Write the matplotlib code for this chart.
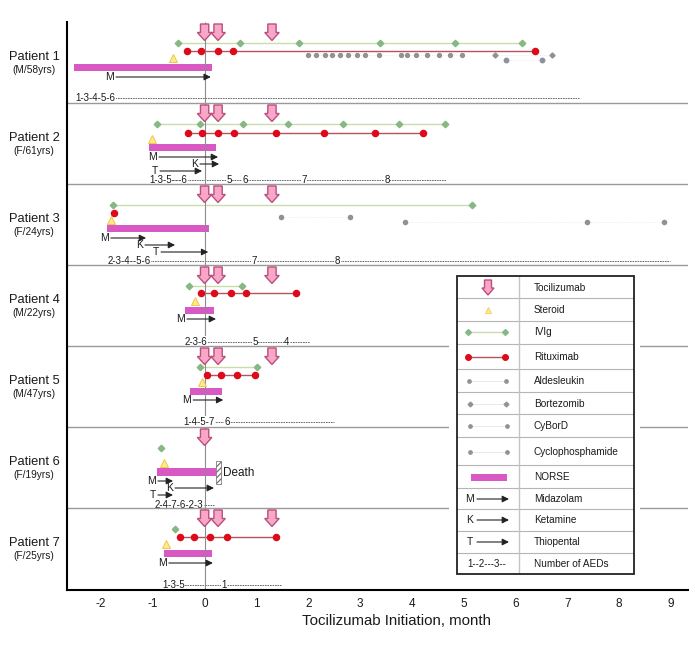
import matplotlib
matplotlib.use("Agg")
import matplotlib.pyplot as plt
from matplotlib.patches import FancyArrow, Rectangle

plt.rcParams["font.family"] = ["Liberation Sans", "DejaVu Sans"]
plt.rcParams["hatch.linewidth"] = 0.8

# data (months from tocilizumab initiation)
patients = ["Patient 1", "Patient 2", "Patient 3", "Patient 4", "Patient 5", "Patient 6", "Patient 7"]
demographics = ["(M/58yrs)", "(F/61yrs)", "(F/24yrs)", "(M/22yrs)", "(M/47yrs)", "(F/19yrs)", "(F/25yrs)"]

tocilizumab = [
    [0, 0.26, 1.30], [0, 0.26, 1.30], [0, 0.26, 1.30], [0, 0.26, 1.30],
    [0, 0.26, 1.30], [0], [0, 0.26, 1.30],
]
steroid = [-0.61, -1.02, -1.81, -0.19, -0.05, -0.78, -0.75]
ivig = [
    [-0.51, 0.68, 1.82, 3.39, 4.83, 6.13],
    [-0.92, -0.09, 0.74, 1.61, 2.67, 3.75, 4.64],
    [-1.77, 5.17],
    [-0.30, 0.72],
    [-0.09, 1.01],
    [-0.84],
    [-0.57],
]
rituximab = [
    [-0.34, -0.07, 0.26, 0.55, 6.38],
    [-0.32, -0.05, 0.26, 0.57, 1.38, 2.30, 3.29, 4.22],
    [-1.75],
    [-0.07, 0.18, 0.51, 0.80, 1.76],
    [0.05, 0.32, 0.63, 0.97],
    [],
    [-0.47, -0.20, 0.10, 0.43, 1.38],
]
norse_start = [-2.52, -1.07, -1.88, -0.38, -0.28, -0.92, -0.78]
norse_end = [0.14, 0.22, 0.09, 0.18, 0.34, 0.22, 0.14]
midazolam_start = [-1.71, -0.88, -1.81, -0.34, -0.22, -0.90, -0.69]
midazolam_end = [0.12, 0.26, -1.13, 0.22, 0.36, -0.61, 0.16]

aldesleukin = [2.00, 2.15, 2.32, 2.46, 2.61, 2.77, 2.94, 3.10, 3.37, 3.79, 3.91, 4.08, 4.29, 4.52, 4.74, 4.97]
bortezomib = [5.61, 6.71]
cybord = [5.82, 6.51]
cyclophosphamide = [1.47, 2.81]
p3_bortezomib = [3.87, 7.38, 8.87]

# patient index, start, end
ketamine = [(1, -0.09, 0.28), (2, -1.15, -0.57), (5, -0.57, 0.18)]
thiopental = [(1, -0.86, -0.05), (2, -0.84, 0.07), (5, -0.90, -0.61)]

aed_labels = [
    ["1-3-4-5-6"],
    ["1-3-5---6", "5", "6", "7", "8"],
    ["2-3-4--5-6", "7", "8"],
    ["2-3-6", "5", "4"],
    ["1-4-5-7", "6"],
    ["2-4-7-6-2-3"],
    ["1-3-5", "1"],
]
aed_times = [
    [-2.50],
    [-1.07, 0.47, 0.78, 1.92, 3.52],
    [-1.88, 0.95, 2.56],
    [-0.38, 0.97, 1.59],
    [-0.41, 0.43],
    [-0.96],
    [-0.82, 0.37],
]
aed_end = [7.23, 4.66, 8.98, 2.03, 2.50, 0.18, 1.47]

xticks = [-2, -1, 0, 1, 2, 3, 4, 5, 6, 7, 8, 9]
legend_names = ["Tocilizumab", "Steroid", "IVIg", "Rituximab", "Aldesleukin", "Bortezomib", "CyBorD",
                "Cyclophosphamide", "NORSE", "Midazolam", "Ketamine", "Thiopental", "Number of AEDs"]

# layout, y axis runs in pixels from the top of the figure
W, H = 698, 646
row_top = [22, 103, 184, 265, 346, 427, 508]
separators = [103, 184, 265, 346, 427, 508]
ivig_y = [43, 124, 205, 286, 367, 448, 529]
rit_y = [51, 133, 213, 293, 375, 456, 537]
steroid_y = [58, 139, 220, 301, 382, 463, 544]
norse_y = [64, 144, 225, 307, 388, 468, 550]
norse_h = [7, 7, 7, 7, 7, 8, 7]
midaz_y = [77, 157, 238, 319, 400, 481, 563]
ket_y = [164, 245, 488]
thio_y = [171, 252, 495]
aed_y = [98, 180, 261, 342, 422, 505, 585]

PINK, PINK_EDGE = "#f9a6c8", "#b8507c"
GREEN, GREEN_LINE = "#86b883", "#c9dcaa"
RED, RED_LINE = "#dd0a1a", "#b4545a"
GRAY, GRAY_LINE = "#929292", "#e6e6e6"
NORSE = "#d858c4"
STEROID, STEROID_EDGE = "#ffe98a", "#efc64a"
TEXT = "#1a1a1a"

fig = plt.figure(figsize=(W / 100, H / 100), dpi=100)
ax = fig.add_axes([67 / W, 1 - 590 / H, (688 - 67) / W, (590 - 22) / H])
ax.set_xlim(-2.656, 9.33)
ax.set_ylim(590, 22)
for side in ["top", "right"]:
    ax.spines[side].set_visible(False)
for side in ["left", "bottom"]:
    ax.spines[side].set_linewidth(1.5)
    ax.spines[side].set_zorder(8)
ax.set_yticks([])
ax.set_xticks(xticks)
ax.set_xticklabels([str(t) for t in xticks], fontsize=8.5, color=TEXT)
ax.tick_params(axis="x", length=0, pad=6)
ax.set_xlabel("Tocilizumab Initiation, month", fontsize=10.8, color=TEXT)
ax.xaxis.set_label_coords((396 - 67) / (688 - 67), -0.042)

# separators sit above the white boxes of the AED text
ax.hlines(separators, -2.656, 9.33, color="#9a9a9a", lw=1, zorder=6)
ax.vlines(0, 22, 590, color="#8c8c8c", lw=0.8, zorder=4)


def pink_arrow(target, x, y0, y1, w, head_w, head_l):
    target.add_patch(FancyArrow(x, y0, 0, y1 - y0, width=w, head_width=head_w, head_length=head_l,
                                length_includes_head=True, facecolor=PINK, edgecolor=PINK_EDGE,
                                lw=1, zorder=7))


def drug_line(target, xs, y, color, line, marker, ms, lw=1.0, ls="-"):
    target.plot(xs, [y] * len(xs), color=line, lw=lw, ls=ls, zorder=3)
    target.plot(xs, [y] * len(xs), ls="none", marker=marker, ms=ms, color=color, mec=color, zorder=5)


def black_arrow(target, x0, x1, y):
    target.annotate("", xy=(x1, y), xytext=(x0, y), zorder=5,
                    arrowprops=dict(arrowstyle="-|>,head_width=0.2,head_length=0.4", color="#222222",
                                    lw=0.8, shrinkA=0, shrinkB=0))


for i in range(7):
    top = row_top[i]
    fig.text(34 / W, 1 - (top + 35) / H, patients[i], ha="center", va="center", fontsize=9.3, color=TEXT)
    fig.text(34 / W, 1 - (top + 48) / H, demographics[i], ha="center", va="center", fontsize=7.3, color=TEXT)

    for t in tocilizumab[i]:
        pink_arrow(ax, t, top + 2, top + 18.5, 0.16, 0.28, 8)

    drug_line(ax, ivig[i], ivig_y[i], GREEN, GREEN_LINE, "D", 3.3)
    if rituximab[i]:
        drug_line(ax, rituximab[i], rit_y[i], RED, RED_LINE, "o", 4.4)
    ax.plot([steroid[i]], [steroid_y[i]], ls="none", marker="^", ms=5.5, color=STEROID, mec=STEROID_EDGE,
            mew=0.7, zorder=5)
    ax.add_patch(Rectangle((norse_start[i], norse_y[i]), norse_end[i] - norse_start[i], norse_h[i],
                           facecolor=NORSE, edgecolor="none", zorder=3))

    black_arrow(ax, midazolam_start[i], midazolam_end[i], midaz_y[i])
    ax.text(midazolam_start[i] - 0.04, midaz_y[i], "M", ha="right", va="center", fontsize=7.5, color=TEXT)

    # AED count strip
    first = aed_times[i][0]
    ax.plot([first, aed_end[i]], [aed_y[i], aed_y[i]], color="#555555", lw=0.6, ls=(0, (2, 1)), zorder=2)
    for j, (label, t) in enumerate(zip(aed_labels[i], aed_times[i])):
        ax.text(t, aed_y[i], label, ha="left" if j == 0 else "center", va="center", fontsize=7, color=TEXT,
                zorder=5, bbox=dict(facecolor="white", edgecolor="none", pad=0.4))

for (i, x0, x1), y in zip(ketamine, ket_y):
    black_arrow(ax, x0, x1, y)
    ax.text(x0 - 0.04, y, "K", ha="right", va="center", fontsize=7.5, color=TEXT)
for (i, x0, x1), y in zip(thiopental, thio_y):
    black_arrow(ax, x0, x1, y)
    ax.text(x0 - 0.04, y, "T", ha="right", va="center", fontsize=7.5, color=TEXT)

# small dose dots in patients 1 and 3
drug_line(ax, aldesleukin, 55, GRAY, GRAY_LINE, "o", 2.8, lw=0.6, ls=":")
drug_line(ax, bortezomib, 55, GRAY, GRAY_LINE, "D", 2.6, lw=0.6, ls=":")
drug_line(ax, cybord, 60, "#8a92a0", GRAY_LINE, "o", 3.2, lw=0.6, ls=":")
drug_line(ax, cyclophosphamide, 217, GRAY, GRAY_LINE, "o", 3, lw=0.6, ls=":")
drug_line(ax, p3_bortezomib, 222, GRAY, GRAY_LINE, "o", 3, lw=0.6, ls=":")

# death marker for patient 6
ax.add_patch(Rectangle((0.22, 461), 0.10, 23, facecolor="white", edgecolor="#666666", hatch="//////", lw=0.5, zorder=4))
ax.text(0.355, 473, "Death", ha="left", va="center", fontsize=8.5, color=TEXT)

# legend table, drawn on an overlay in figure pixels
lg = fig.add_axes([0, 0, 1, 1], zorder=10)
lg.set_xlim(0, W)
lg.set_ylim(H, 0)
lg.axis("off")
lg.patch.set_alpha(0)
lg.add_patch(Rectangle((449, 270), 191, 310, facecolor="white", edgecolor="none", zorder=1))
row_lines = [298, 321, 344, 369, 392, 414, 437, 465, 488, 509, 531, 553]
lg.hlines(row_lines, 457, 634, color="#b5b5b5", lw=0.8, zorder=2)
lg.vlines(519, 276, 574, color="#c4c4c4", lw=1, zorder=2)
lg.add_patch(Rectangle((457, 276), 177, 298, facecolor="none", edgecolor="#222222", lw=1.3, zorder=8))
row_y = [288, 310, 332, 357, 381, 404, 426, 452, 477, 499, 520, 542, 564]
for name, y in zip(legend_names, row_y):
    lg.text(534, y, name, ha="left", va="center", fontsize=7.2, color=TEXT)

pink_arrow(lg, 488, 280, 295, 7, 12, 7)
lg.plot([488], [310], ls="none", marker="^", ms=4.5, color=STEROID, mec=STEROID_EDGE, mew=0.5, zorder=5)
drug_line(lg, [468, 505], 332, GREEN, GREEN_LINE, "D", 3)
drug_line(lg, [468, 505], 357, RED, RED_LINE, "o", 4)
drug_line(lg, [469, 506], 381, GRAY, GRAY_LINE, "o", 2.4, lw=0.6)
drug_line(lg, [470, 506], 404, GRAY, GRAY_LINE, "D", 2.4, lw=0.6)
drug_line(lg, [470, 507], 426, GRAY, GRAY_LINE, "o", 2.4, lw=0.6)
drug_line(lg, [470, 507], 452, GRAY, GRAY_LINE, "o", 2.4, lw=0.6)
lg.add_patch(Rectangle((471, 473.5), 36, 7, facecolor=NORSE, edgecolor="none", zorder=3))
for letter, y in zip("MKT", [499, 520, 542]):
    black_arrow(lg, 477, 509, y)
    lg.text(470, y, letter, ha="center", va="center", fontsize=7.5, color=TEXT)
lg.text(467, 564, "1--2---3--", ha="left", va="center", fontsize=7, color=TEXT)

fig.savefig("out.png", dpi=100)
